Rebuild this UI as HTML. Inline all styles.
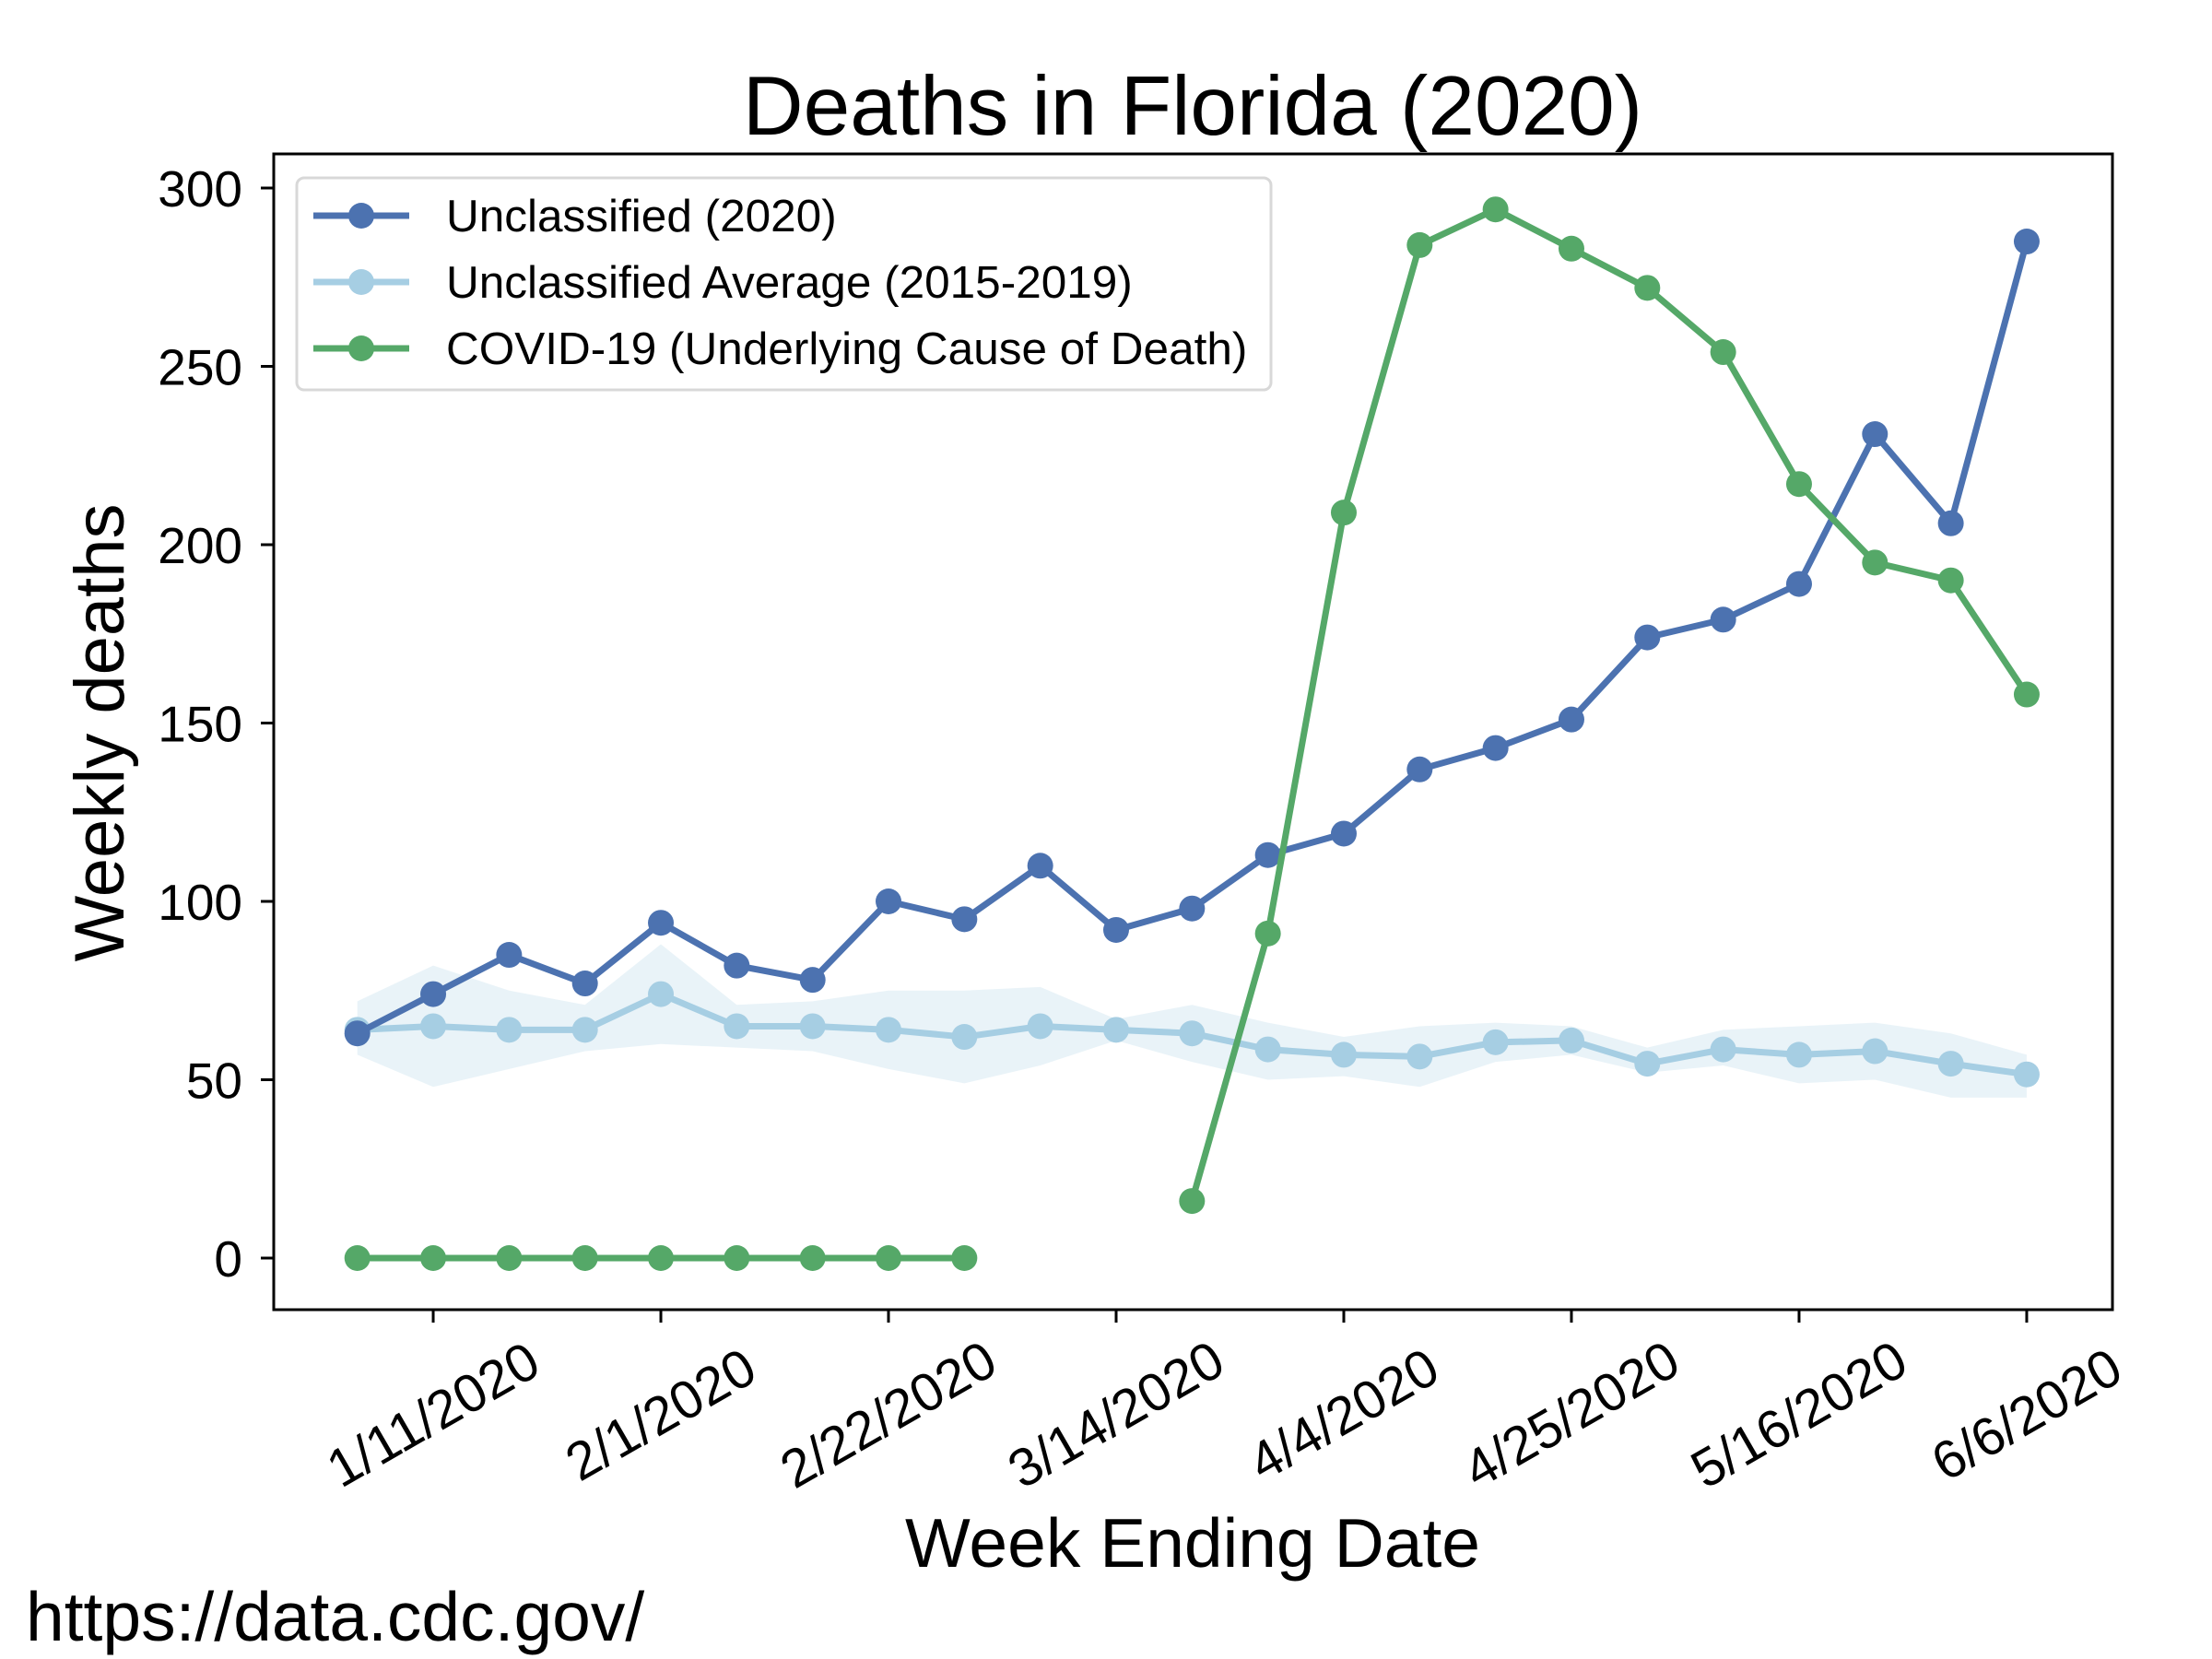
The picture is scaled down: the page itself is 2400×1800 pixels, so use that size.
<!DOCTYPE html>
<html><head><meta charset="utf-8"><style>
html,body{margin:0;padding:0;background:#fff;}
svg{display:block;font-family:"Liberation Sans",Arial,sans-serif;}
</style></head><body>
<svg id="chart" width="2400" height="1800" viewBox="0 0 2400 1800">
<rect width="2400" height="1800" fill="#fff"/>
<g id="band"></g>
<g id="series"></g>
<g id="axes"></g>
<text x="1294" y="146" font-size="91" text-anchor="middle">Deaths in Florida (2020)</text>
<text x="1294" y="1700" font-size="75" text-anchor="middle">Week Ending Date</text>
<text x="0" y="0" font-size="76" text-anchor="middle" transform="translate(134,795) rotate(-90)">Weekly deaths</text>
<text x="28" y="1780" font-size="75">https://data.cdc.gov/</text>
<g id="legend"></g>
</svg>
<script>
const weeks = ["1/4/2020","1/11/2020","1/18/2020","1/25/2020","2/1/2020","2/8/2020","2/15/2020","2/22/2020","2/29/2020","3/7/2020","3/14/2020","3/21/2020","3/28/2020","4/4/2020","4/11/2020","4/18/2020","4/25/2020","5/2/2020","5/9/2020","5/16/2020","5/23/2020","5/30/2020","6/6/2020"];
const unclassified2020 = [63,74,85,77,94,82,78,100,95,110,92,98,113,119,137,143,151,174,179,189,231,206,285];
const unclassifiedAvg = [64,65,64,64,74,65,65,64,62,65,64,63,58.5,57,56.5,60.5,61,54.5,58.5,57,58,54.5,51.5];
const avgUpper = [72,82,75,71,88,71,72,75,75,76,67,71,66,62,65,66,65,59,64,65,66,63,57];
const avgLower = [57,48,53,58,60,59,58,53,49,54,61,55,50,51,48,55,57,52,54,49,50,45,45];
const covid = [0,0,0,0,0,0,0,0,0,null,null,16,91,209,284,294,283,272,254,217,195,190,158];
const yTicks = [0,50,100,150,200,250,300];
const xTickIdx = [1,4,7,10,13,16,19,22];

const NS = "http://www.w3.org/2000/svg";
const X0 = 387.7, DX = 82.33, Y0 = 1365, DY = 3.87;
const L = 297, R = 2292, T = 167, B = 1421;
function xs(i){ return X0 + i*DX; }
function ys(v){ return Y0 - v*DY; }
function mk(tag, attrs, parent){ const e=document.createElementNS(NS,tag); for(const k in attrs) e.setAttribute(k,attrs[k]); parent.appendChild(e); return e; }

const band = document.getElementById('band');
let pts = avgUpper.map((v,i)=>xs(i)+','+ys(v));
for(let i=avgLower.length-1;i>=0;i--) pts.push(xs(i)+','+ys(avgLower[i]));
const poly = mk('polygon',{points:pts.join(' '),fill:'#a6cee3','fill-opacity':'0.25'},band);



const series = document.getElementById('series');
function drawSeries(vals, color, name){
  const g = mk('g',{},series);
  
  
  let segs=[], cur=[];
  vals.forEach((v,i)=>{ if(v===null){ if(cur.length) segs.push(cur); cur=[]; } else cur.push(xs(i)+','+ys(v)); });
  if(cur.length) segs.push(cur);
  segs.forEach(s=>{
    const pl = mk('polyline',{points:s.join(' '),fill:'none',stroke:color,'stroke-width':7,'stroke-linejoin':'round'},g);
    
    
  });
  vals.forEach((v,i)=>{ if(v===null) return;
    const c = mk('circle',{cx:xs(i),cy:ys(v),r:14,fill:color},g);
    
    
  });
}
drawSeries(unclassifiedAvg,'#a6cee3','unclassified-average-series');
drawSeries(unclassified2020,'#4c72b0','unclassified-2020-series');
drawSeries(covid,'#55a868','covid-19-series');

const ax = document.getElementById('axes');
const frame = mk('rect',{x:L,y:T,width:R-L,height:B-T,fill:'none',stroke:'#000','stroke-width':3},ax);


yTicks.forEach(v=>{
  mk('line',{x1:L-14,x2:L,y1:ys(v),y2:ys(v),stroke:'#000','stroke-width':3},ax);
  const t = mk('text',{x:263,y:ys(v)+20,'font-size':55,'text-anchor':'end'},ax);
  t.textContent = v;
  
  
});
xTickIdx.forEach(i=>{
  mk('line',{x1:xs(i),x2:xs(i),y1:B,y2:B+14,stroke:'#000','stroke-width':3},ax);
  const t = mk('text',{x:0,y:0,'font-size':58,'text-anchor':'middle','dominant-baseline':'central',transform:'translate('+xs(i)+',1535) rotate(-30)'},ax);
  t.textContent = weeks[i];
  
  
});

const lg = document.getElementById('legend');
mk('rect',{x:322,y:193,width:1057,height:230,rx:8,fill:'#fff','fill-opacity':0.85,stroke:'#d8d8d8','stroke-width':3},lg);
const legItems = [["Unclassified (2020)","#4c72b0"],["Unclassified Average (2015-2019)","#a6cee3"],["COVID-19 (Underlying Cause of Death)","#55a868"]];
legItems.forEach((it,k)=>{
  const y = 234 + k*72;
  const g = mk('g',{},lg);
  
  
  mk('line',{x1:340,x2:444,y1:y,y2:y,stroke:it[1],'stroke-width':7},g);
  mk('circle',{cx:392,cy:y,r:14,fill:it[1]},g);
  const t = mk('text',{x:484,y:y+17,'font-size':49.5},g);
  t.textContent = it[0];
});
</script>
</body></html>
